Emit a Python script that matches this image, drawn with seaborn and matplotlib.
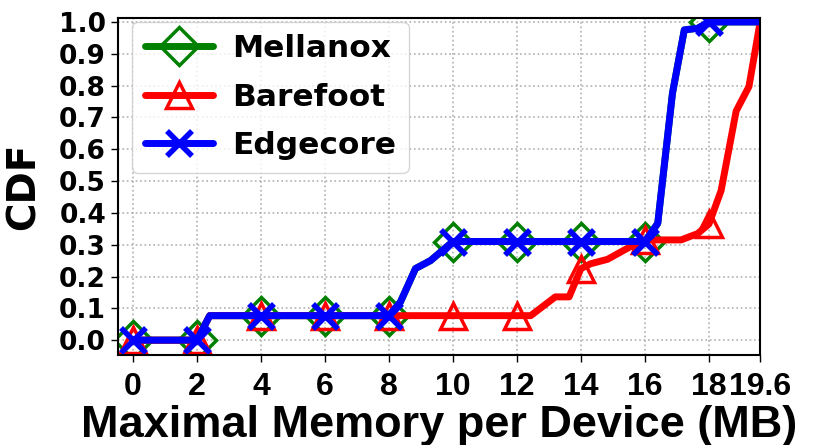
import matplotlib
matplotlib.use("Agg")
import matplotlib.pyplot as plt
import pandas as pd
import seaborn as sns

# memory (MB) vs CDF
mellanox_x = [0, 2, 2.4, 4, 6, 8, 8.36, 8.83, 9.3, 10, 12, 14, 16, 16.4, 16.86, 17.23, 17.65, 18, 19.6]
mellanox_y = [0, 0, 0.077, 0.077, 0.077, 0.077, 0.12, 0.225, 0.25, 0.31, 0.31, 0.31, 0.31, 0.367, 0.776, 0.975, 0.98, 1.0, 1.0]

barefoot_x = [0, 2, 2.4, 4, 6, 8, 10, 12, 12.43, 13.2, 13.63, 14, 14.3, 14.83, 15.35, 15.77, 16,
              17.13, 17.65, 18, 18.38, 18.85, 19.25, 19.6]
barefoot_y = [0, 0, 0.077, 0.077, 0.077, 0.077, 0.077, 0.077, 0.077, 0.136, 0.136, 0.225, 0.24, 0.254,
              0.283, 0.306, 0.315, 0.315, 0.335, 0.365, 0.47, 0.72, 0.797, 1.0]

edgecore_x = [0, 2, 2.4, 4, 6, 8, 8.36, 8.83, 9.3, 10, 12, 14, 16, 16.4, 16.86, 17.23, 17.65, 18, 19.6]
edgecore_y = [0, 0, 0.077, 0.077, 0.077, 0.077, 0.12, 0.225, 0.25, 0.31, 0.31, 0.31, 0.31, 0.367, 0.776, 0.975, 0.98, 1.0, 1.0]

x_ticks = [0, 2, 4, 6, 8, 10, 12, 14, 16, 18, 19.6]
x_tick_labels = ["0", "2", "4", "6", "8", "10", "12", "14", "16", "18", "19.6"]
y_ticks = [0.0, 0.1, 0.2, 0.3, 0.4, 0.5, 0.6, 0.7, 0.8, 0.9, 1.0]
marker_at = [0, 2, 4, 6, 8, 10, 12, 14, 16, 18]

sns.set_style("white")
plt.rcParams["font.family"] = ["DejaVu Sans"]
plt.rcParams["font.weight"] = "bold"
plt.rcParams["text.color"] = "black"
plt.rcParams["axes.labelcolor"] = "black"
plt.rcParams["xtick.color"] = "black"
plt.rcParams["ytick.color"] = "black"

fig = plt.figure(figsize=(8.13, 4.45), dpi=100)
ax = fig.add_axes([0.145, 0.202, 0.79, 0.758])

series = [
    ("Mellanox", mellanox_x, mellanox_y, "green", "D", 19, 2.5),
    ("Barefoot", barefoot_x, barefoot_y, "red", "^", 19, 2.5),
    ("Edgecore", edgecore_x, edgecore_y, "blue", "x", 18, 4),
]

for name, xs, ys, color, marker, ms, mew in series:
    df = pd.DataFrame({"x": xs, "y": ys})
    marks = [i for i, v in enumerate(xs) if v in marker_at]
    sns.lineplot(data=df, x="x", y="y", ax=ax, sort=False, color=color, linewidth=5,
                 marker=marker, markevery=marks, markersize=ms, markeredgewidth=mew,
                 markerfacecolor="none", markeredgecolor=color, label=name)

ax.set_xlim(-0.47, 19.6)
ax.set_ylim(-0.047, 1.013)
ax.set_xticks(x_ticks)
ax.set_xticklabels(x_tick_labels, fontfamily="Liberation Sans", fontsize=23, fontweight="bold")
ax.set_yticks(y_ticks)
ax.set_yticklabels([f"{v:.1f}" for v in y_ticks], fontsize=19, fontweight="bold")
ax.tick_params(axis="both", direction="out", length=5, width=1, left=True, bottom=True)
ax.tick_params(axis="x", pad=7)
ax.grid(True, linestyle=":", color="#b0b0b0", linewidth=1.2)
for sp in ax.spines.values():
    sp.set_color("black")
    sp.set_linewidth(1.5)

ax.set_xlabel("Maximal Memory per Device (MB)", fontfamily="Liberation Sans", fontsize=32.5,
              fontweight="bold", labelpad=2)
ax.set_ylabel("CDF", fontsize=28, fontweight="bold", labelpad=12)

ax.legend(loc="upper left", prop={"size": 22.5, "weight": "bold"}, handlelength=2.2,
          frameon=True, borderpad=0.4, labelspacing=0.62, handletextpad=0.6,
          borderaxespad=0.0, bbox_to_anchor=(0.022, 0.988))

fig.savefig("out.png", dpi=100)
